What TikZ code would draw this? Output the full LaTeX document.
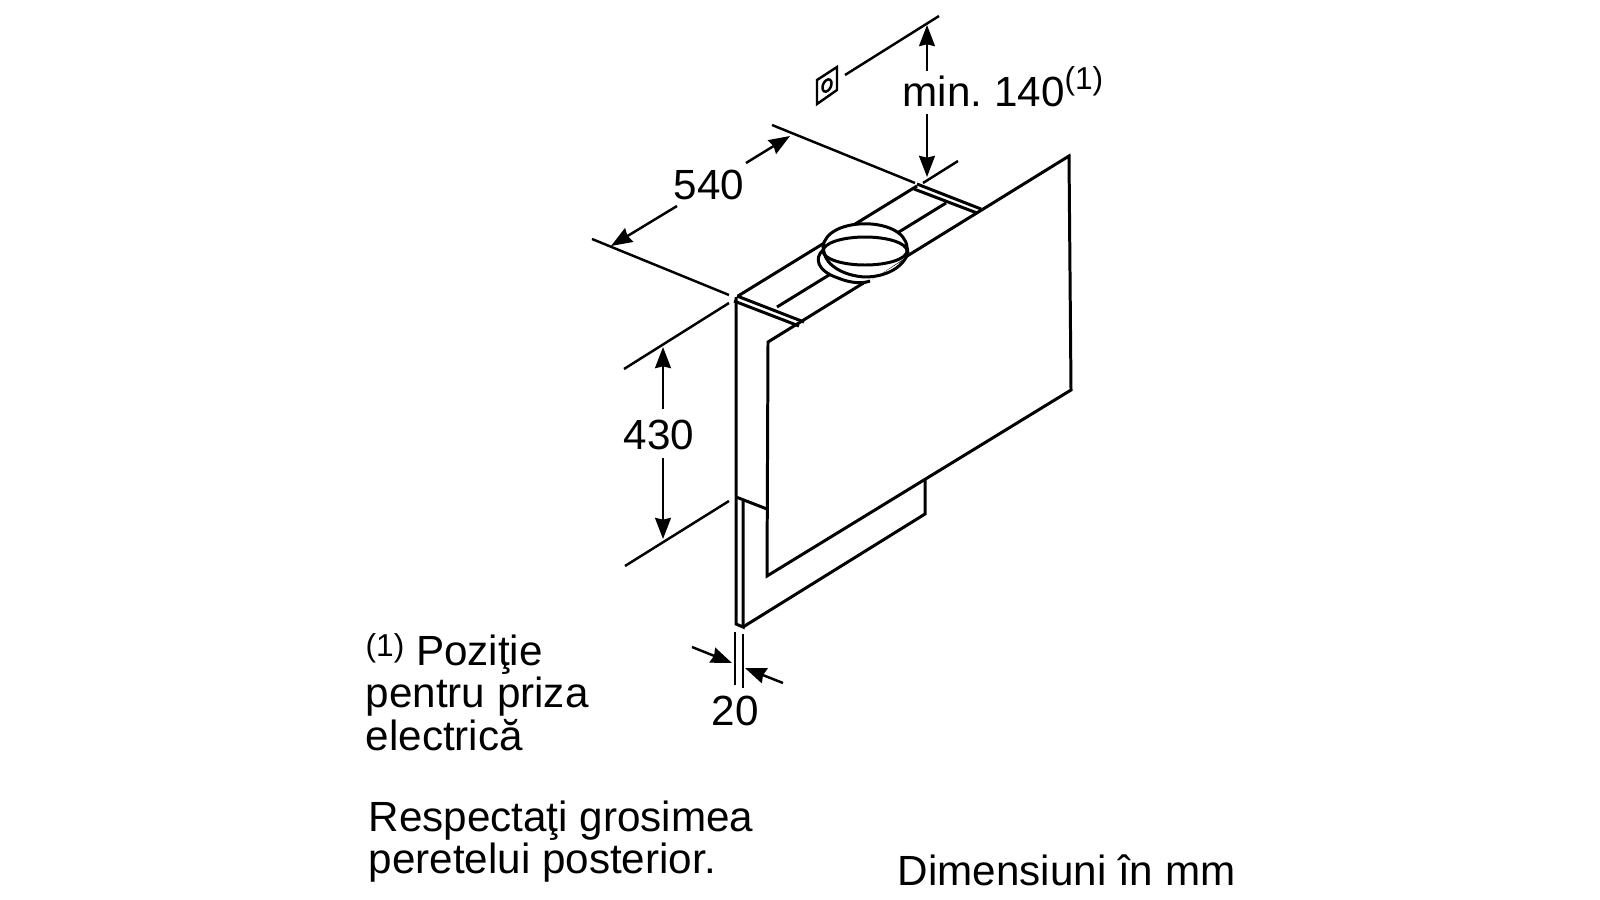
\documentclass[tikz,border=0pt]{standalone}
\usepackage{fontspec}
\setmainfont{Liberation Sans}
\usetikzlibrary{arrows.meta}
\tikzset{
  hoodline/.style={black, line width=0.85pt, line join=miter},
  dimline/.style={black, line width=0.7pt},
  dimarrow/.style={dimline, -{Stealth[length=6pt,width=4.5pt,inset=0.5pt]}},
  lbl/.style={inner sep=0pt, font=\fontsize{12}{12}\selectfont},
  para/.style={lbl, align=left, anchor=north west}
}
\newcommand{\noteref}[1]{\raisebox{#1}{\fontsize{9}{9}\selectfont(1)}}
\begin{document}
\begin{tikzpicture}[x=0.01cm, y=-0.01cm]
\useasboundingbox (0,0) rectangle (1600,900);
% socket and wall line
\draw[dimline] (845,75) -- (939,16);
\draw[dimline] (817,80) -- (837,67) -- (837,90) -- (817,104) -- cycle;
\draw[dimline, rotate around={-25:(827,85.5)}] (827,85.5) ellipse (4 and 6.5);
% panel and top of the hood
\draw[hoodline] (768,342) -- (1069,156) -- (1071,390) -- (767,576) -- cycle;
\draw[hoodline] (738,296) -- (917,186);
\draw[hoodline] (777,307) -- (946,203);
\draw[hoodline] (917,184) -- (981,209);
\draw[hoodline] (914,189) -- (977,213);
\draw[hoodline] (737,296) -- (804,322);
\draw[hoodline] (734,301) -- (799,326);
% flange and ring
\fill[white] (823,250) .. controls (814,258) and (817,271) .. (838,278) .. controls (850,283) and (862,284) .. (870,281) -- (905,258) -- (908,253) -- (907,247) .. controls (904,216) and (826,216) .. (823,247) -- cycle;
\draw[hoodline] (823,250) .. controls (814,258) and (817,271) .. (838,278) .. controls (850,283) and (862,284) .. (870,281);
\draw[hoodline] (824,252) .. controls (826,266) and (845,276) .. (865,277) .. controls (885,277) and (903,268) .. (908,253) -- (907,247) .. controls (904,216) and (826,216) .. (823,247) -- (824,252);
\draw[hoodline] (865,251) ellipse (42 and 14);
% front and lower part
\draw[hoodline] (736,297) -- (736,624) -- (743,627) -- (743,501);
\draw[hoodline] (736,497) -- (767,509);
\draw[hoodline] (743,627) -- (925,514) -- (925,480);
% dimensions
\draw (902,106) node[lbl, anchor=base west] (lblHeight) {min.\ 140\noteref{4.8pt}};
\coordinate (heightTop) at (927,25);
\coordinate (heightTopEnd) at (927,71);
\coordinate (heightLow) at (927,177);
\coordinate (heightLowEnd) at (927,114);
\draw[dimarrow] (heightTopEnd) -- (heightTop);
\draw[dimarrow] (heightLowEnd) -- (heightLow);
\draw[dimline] (772,125) -- (915,183);
\draw[dimline] (923,183) -- (958,161);
\draw[dimline] (592,239) -- (729,295);
\draw (709,185) node[lbl] (lblWidth) {540};
\coordinate (widthLeft) at (611,246);
\coordinate (widthLeftEnd) at (677,206);
\coordinate (widthRight) at (790,136);
\coordinate (widthRightEnd) at (746,163);
\draw[dimarrow] (widthLeftEnd) -- (widthLeft);
\draw[dimarrow] (widthRightEnd) -- (widthRight);
\draw[dimline] (624,369) -- (729,303);
\draw[dimline] (625,566) -- (729,501);
\draw (659,435) node[lbl] (lblDepth) {430};
\coordinate (depthTop) at (663,347);
\coordinate (depthTopEnd) at (663,409);
\coordinate (depthLow) at (663,539);
\coordinate (depthLowEnd) at (663,458);
\draw[dimarrow] (depthTopEnd) -- (depthTop);
\draw[dimarrow] (depthLowEnd) -- (depthLow);
\draw[dimline] (735,632) -- (735,685);
\draw[dimline] (743,634) -- (743,688);
\coordinate (wallLeft) at (732,663);
\coordinate (wallLeftEnd) at (692,647);
\coordinate (wallRight) at (745,668);
\coordinate (wallRightEnd) at (783,683);
\draw[dimarrow] (wallLeftEnd) -- (wallLeft);
\draw[dimarrow] (wallRightEnd) -- (wallRight);
\draw (735,711) node[lbl] (lblWall) {20};
% notes
\draw (365,633) node[para] (noteSocket) {\noteref{2.6pt}\ Poziţie\\pentru priza\\electrică};
\draw (368,800) node[para] (noteWall) {Respectaţi grosimea\\peretelui posterior.};
\draw (897,885) node[lbl, anchor=base west] (noteUnit) {Dimensiuni în mm};
\end{tikzpicture}
\end{document}
